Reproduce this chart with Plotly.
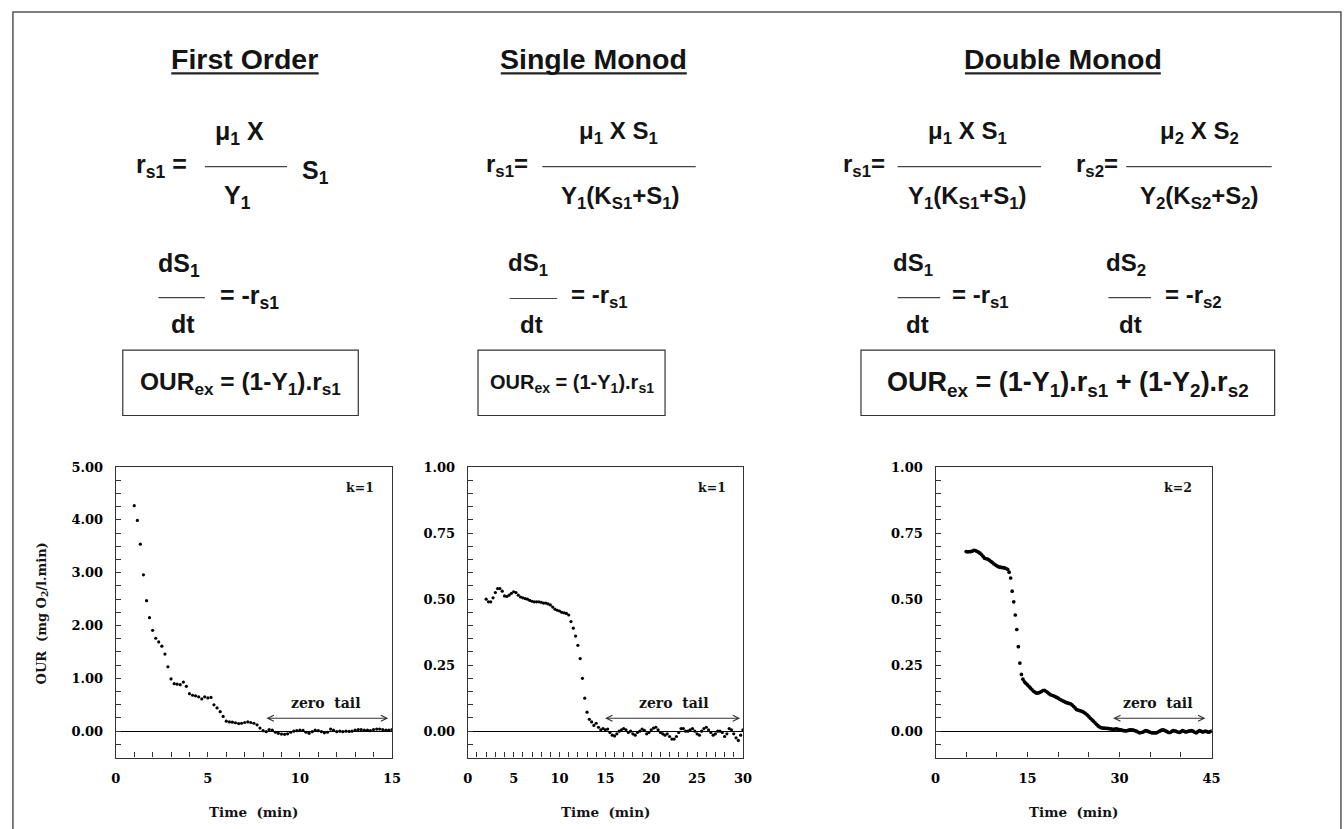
import plotly.graph_objects as go

W, H = 1344, 829

# ---------------- measured oxygen uptake rates ----------------
first_order_t = [
    1.00, 1.17, 1.33, 1.50, 1.67, 1.83, 2.00, 2.17, 2.33, 2.50,
    2.67, 2.83, 3.00, 3.17, 3.33, 3.50, 3.67, 3.83, 4.00, 4.17,
    4.33, 4.50, 4.67, 4.83, 5.00, 5.17, 5.33, 5.50, 5.67, 5.83,
    6.00, 6.17, 6.33, 6.50, 6.67, 6.83, 7.00, 7.17, 7.33, 7.50,
    7.67, 7.83, 8.00, 8.17, 8.33, 8.50, 8.67, 8.83, 9.00, 9.17,
    9.33, 9.50, 9.67, 9.83, 10.00, 10.17, 10.33, 10.50, 10.67, 10.83,
    11.00, 11.17, 11.33, 11.50, 11.67, 11.83, 12.00, 12.17, 12.33, 12.50,
    12.67, 12.83, 13.00, 13.17, 13.33, 13.50, 13.67, 13.83, 14.00, 14.17,
    14.33, 14.50, 14.67, 14.83, 15.00,
]
first_order_our = [
    4.27, 3.99, 3.54, 2.96, 2.47, 2.15, 1.91, 1.76, 1.69, 1.61,
    1.46, 1.22, 0.99, 0.90, 0.89, 0.88, 0.93, 0.85, 0.71, 0.68,
    0.67, 0.65, 0.61, 0.65, 0.63, 0.64, 0.50, 0.44, 0.37, 0.28,
    0.19, 0.175, 0.17, 0.16, 0.145, 0.15, 0.165, 0.175, 0.165, 0.15,
    0.12, 0.06, 0.01, -0.01, 0.03, 0.02, -0.02, -0.04, -0.055, -0.06,
    -0.05, -0.02, 0.0, 0.01, 0.02, 0.015, -0.02, -0.04, -0.01, 0.02,
    0.01, -0.01, -0.03, -0.02, 0.04, 0.02, -0.01, 0.0, -0.01, 0.0,
    -0.005, 0.0, 0.02, 0.03, 0.03, 0.02, 0.02, 0.01, 0.03, 0.04,
    0.04, 0.03, 0.02, 0.02, 0.03,
]

single_monod_t = [
    2.00, 2.25, 2.50, 2.75, 3.00, 3.25, 3.50, 3.75,
    4.00, 4.25, 4.50, 4.75, 5.00, 5.25, 5.50, 5.75,
    6.00, 6.25, 6.50, 6.75, 7.00, 7.25, 7.50, 7.75,
    8.00, 8.25, 8.50, 8.75, 9.00, 9.25, 9.50, 9.75,
    10.00, 10.25, 10.50, 10.75, 11.00, 11.25, 11.50, 11.75,
    12.00, 12.25, 12.50, 12.75, 13.00, 13.25, 13.50, 13.75,
    14.00, 14.25, 14.50, 14.75, 15.00, 15.25, 15.50, 15.75,
    16.00, 16.25, 16.50, 16.75, 17.00, 17.25, 17.50, 17.75,
    18.00, 18.25, 18.50, 18.75, 19.00, 19.25, 19.50, 19.75,
    20.00, 20.25, 20.50, 20.75, 21.00, 21.25, 21.50, 21.75,
    22.00, 22.25, 22.50, 22.75, 23.00, 23.25, 23.50, 23.75,
    24.00, 24.25, 24.50, 24.75, 25.00, 25.25, 25.50, 25.75,
    26.00, 26.25, 26.50, 26.75, 27.00, 27.25, 27.50, 27.75,
    28.00, 28.25, 28.50, 28.75, 29.00, 29.25, 29.50, 29.75,
    30.00,
]
single_monod_our = [
    0.500, 0.490, 0.490, 0.505, 0.525, 0.540, 0.540, 0.530,
    0.512, 0.510, 0.515, 0.522, 0.528, 0.525, 0.515, 0.508,
    0.505, 0.502, 0.500, 0.495, 0.492, 0.490, 0.490, 0.490,
    0.488, 0.485, 0.485, 0.482, 0.478, 0.470, 0.462, 0.458,
    0.455, 0.450, 0.448, 0.446, 0.440, 0.415, 0.390, 0.360,
    0.325, 0.275, 0.200, 0.125, 0.072, 0.045, 0.035, 0.022,
    0.030, 0.015, 0.005, 0.010, 0.005, 0.008, -0.005, -0.015,
    -0.018, -0.010, 0.000, 0.005, 0.010, 0.005, -0.005, 0.000,
    -0.010, -0.015, -0.005, 0.000, 0.008, 0.003, -0.010, -0.005,
    0.005, 0.012, 0.015, 0.005, -0.005, -0.010, -0.015, -0.010,
    -0.020, -0.030, -0.030, -0.020, -0.005, 0.010, 0.010, 0.000,
    0.000, 0.005, 0.010, 0.000, -0.010, -0.015, 0.000, 0.010,
    0.015, 0.005, -0.005, -0.015, -0.010, 0.000, 0.000, -0.005,
    -0.020, -0.010, 0.010, 0.005, -0.010, -0.025, -0.035, -0.015,
    0.005,
]

double_monod_t = [
    5.00, 5.25, 5.50, 5.75, 6.00, 6.25, 6.50, 6.75,
    7.00, 7.25, 7.50, 7.75, 8.00, 8.25, 8.50, 8.75,
    9.00, 9.25, 9.50, 9.75, 10.00, 10.25, 10.50, 10.75,
    11.00, 11.25, 11.50, 11.75, 12.00, 12.25, 12.50, 12.75,
    13.00, 13.25, 13.50, 13.75, 14.00, 14.25, 14.50, 14.75,
    15.00, 15.25, 15.50, 15.75, 16.00, 16.25, 16.50, 16.75,
    17.00, 17.25, 17.50, 17.75, 18.00, 18.25, 18.50, 18.75,
    19.00, 19.25, 19.50, 19.75, 20.00, 20.25, 20.50, 20.75,
    21.00, 21.25, 21.50, 21.75, 22.00, 22.25, 22.50, 22.75,
    23.00, 23.25, 23.50, 23.75, 24.00, 24.25, 24.50, 24.75,
    25.00, 25.25, 25.50, 25.75, 26.00, 26.25, 26.50, 26.75,
    27.00, 27.25, 27.50, 27.75, 28.00, 28.25, 28.50, 28.75,
    29.00, 29.25, 29.50, 29.75, 30.00, 30.25, 30.50, 30.75,
    31.00, 31.25, 31.50, 31.75, 32.00, 32.25, 32.50, 32.75,
    33.00, 33.25, 33.50, 33.75, 34.00, 34.25, 34.50, 34.75,
    35.00, 35.25, 35.50, 35.75, 36.00, 36.25, 36.50, 36.75,
    37.00, 37.25, 37.50, 37.75, 38.00, 38.25, 38.50, 38.75,
    39.00, 39.25, 39.50, 39.75, 40.00, 40.25, 40.50, 40.75,
    41.00, 41.25, 41.50, 41.75, 42.00, 42.25, 42.50, 42.75,
    43.00, 43.25, 43.50, 43.75, 44.00, 44.25, 44.50, 44.75,
    45.00,
]
double_monod_our = [
    0.680, 0.679, 0.680, 0.680, 0.682, 0.685, 0.684, 0.681,
    0.678, 0.674, 0.669, 0.662, 0.655, 0.653, 0.652, 0.648,
    0.643, 0.639, 0.634, 0.630, 0.626, 0.623, 0.621, 0.620,
    0.619, 0.618, 0.616, 0.613, 0.602, 0.580, 0.530, 0.490,
    0.440, 0.385, 0.320, 0.258, 0.215, 0.197, 0.187, 0.181,
    0.175, 0.169, 0.163, 0.157, 0.151, 0.147, 0.144, 0.145,
    0.147, 0.150, 0.154, 0.155, 0.151, 0.147, 0.142, 0.138,
    0.136, 0.134, 0.131, 0.128, 0.125, 0.121, 0.118, 0.115,
    0.112, 0.109, 0.107, 0.105, 0.104, 0.100, 0.094, 0.088,
    0.082, 0.080, 0.078, 0.076, 0.074, 0.070, 0.066, 0.061,
    0.055, 0.049, 0.043, 0.038, 0.032, 0.026, 0.020, 0.016,
    0.013, 0.012, 0.012, 0.011, 0.011, 0.010, 0.009, 0.008,
    0.007, 0.008, 0.009, 0.007, 0.006, 0.005, 0.003, 0.002,
    0.001, 0.002, 0.004, 0.005, 0.005, 0.004, 0.002, 0.000,
    -0.003, -0.006, -0.005, -0.004, -0.001, 0.002, 0.001, -0.002,
    -0.004, -0.006, -0.006, -0.006, -0.006, -0.003, 0.000, 0.003,
    0.005, 0.004, 0.001, -0.002, -0.005, -0.005, -0.001, 0.002,
    0.001, -0.001, -0.003, -0.005, -0.002, 0.002, 0.000, -0.003,
    -0.002, 0.000, 0.001, 0.002, 0.000, -0.004, -0.006, -0.002,
    0.002, 0.000, -0.003, -0.002, 0.000, -0.002, -0.004, -0.002,
    0.000,
]

panel_titles = ["First Order", "Single Monod", "Double Monod"]
k_labels = ["k=1", "k=1", "k=2"]

# ---------------- helpers ----------------
def fx(p):
    return p / W


def fy(p):
    return 1 - p / H


SANS = "Liberation Sans, Arial, sans-serif"
SERIF = "DejaVu Serif, serif"
INK = "#141414"

annotations = []
shapes = []


def label(x, y, text, size=25, xanchor="center", family=SANS, weight="bold", angle=0):
    annotations.append(dict(
        x=fx(x), y=fy(y), xref="paper", yref="paper", text=text, showarrow=False,
        xanchor=xanchor, yanchor="middle", textangle=angle,
        font=dict(family=family, size=size, color=INK, weight=weight),
    ))


def hline(x0, x1, y, width=1.2, color="#444444"):
    shapes.append(dict(type="line", xref="paper", yref="paper",
                       x0=fx(x0), x1=fx(x1), y0=fy(y), y1=fy(y),
                       line=dict(color=color, width=width)))


def box(x0, y0, x1, y1):
    shapes.append(dict(type="rect", xref="paper", yref="paper",
                       x0=fx(x0), x1=fx(x1), y0=fy(y0), y1=fy(y1),
                       line=dict(color="#333333", width=1.2)))


# ---------------- figure ----------------
fig = go.Figure()

series = [
    (first_order_t, first_order_our, "x", "y", 3.2),
    (single_monod_t, single_monod_our, "x2", "y2", 3.2),
    (double_monod_t, double_monod_our, "x3", "y3", 3.7),
]
for t, our, xa, ya, msize in series:
    fig.add_trace(go.Scatter(
        x=t, y=our, xaxis=xa, yaxis=ya, mode="markers",
        marker=dict(size=msize, color="black", line=dict(width=0)),
        showlegend=False, hoverinfo="skip",
    ))

tickfont = dict(family=SERIF, size=13, color="black", weight="bold")
axis_common = dict(
    showline=True, linecolor="#333333", linewidth=1.3, mirror=True,
    ticks="inside", ticklen=5, tickcolor="#333333", tickwidth=1,
    showgrid=False, tickfont=tickfont,
)

panels = [
    # (x domain px, x range, x major, x minor, y range, y major, y minor)
    ((112, 391), [0, 15], 5, 1, [-0.5, 5], 1, 0.25),
    ((467.7, 745.7), [0, 30], 5, 1, [-0.1, 1], 0.25, 0.05),
    ((940.3, 1219.3), [0, 45], 15, 5, [-0.1, 1], 0.25, 0.05),
]
ydom = [fy(757), fy(464)]
layout_axes = {}
for i, (xd, xr, xmaj, xmin, yr, ymaj, ymin) in enumerate(panels):
    sfx = "" if i == 0 else str(i + 1)
    layout_axes["xaxis" + sfx] = dict(
        axis_common, domain=[fx(xd[0]), fx(xd[1])], range=xr, dtick=xmaj, tick0=0,
        anchor="y" + sfx, zeroline=False, ticklabelstandoff=9,
        minor=dict(dtick=xmin, tick0=0, ticks="inside", ticklen=5, tickcolor="#333333", showgrid=False),
    )
    layout_axes["yaxis" + sfx] = dict(
        axis_common, domain=ydom, range=yr, dtick=ymaj, tick0=0, tickformat=".2f",
        anchor="x" + sfx, zeroline=True, zerolinecolor="black", zerolinewidth=1,
        ticklabelstandoff=9,
        minor=dict(dtick=ymin, tick0=0, ticks="inside", ticklen=5, tickcolor="#333333", showgrid=False),
    )

# panel headings with underline
for (cx, x0, x1), title in zip([(242, 168, 317), (595, 501, 689), (1069, 970, 1168)], panel_titles):
    label(cx, 52, title, size=28.5)
    hline(x0, x1, 67, width=2.2, color="#222222")

# ---- First order rate expression ----
label(130, 160, "r<sub>s1</sub> =", xanchor="left")
hline(202, 285, 161)
label(237, 127, "\u03bc<sub>1</sub> X")
label(235, 192, "Y<sub>1</sub>")
label(298, 166, "S<sub>1</sub>", xanchor="left")
label(176, 260, "dS<sub>1</sub>")
hline(155, 202, 293)
label(215, 292, "= -r<sub>s1</sub>", xanchor="left")
label(180, 320, "dt")

# ---- Single Monod rate expression ----
label(484, 160, "r<sub>s1</sub>=", size=24, xanchor="left")
hline(543, 698, 161)
label(620, 127, "\u03bc<sub>1</sub> X S<sub>1</sub>", size=24)
label(622, 192, "Y<sub>1</sub>(K<sub>S1</sub>+S<sub>1</sub>)", size=24)
label(528, 260, "dS<sub>1</sub>", size=24)
hline(510, 558, 294)
label(570, 292, "= -r<sub>s1</sub>", size=24, xanchor="left")
label(532, 320, "dt", size=24)

# ---- Double Monod rate expressions ----
label(845, 160, "r<sub>s1</sub>=", size=24, xanchor="left")
hline(902, 1047, 161)
label(973, 127, "\u03bc<sub>1</sub> X S<sub>1</sub>", size=24)
label(973, 192, "Y<sub>1</sub>(K<sub>S1</sub>+S<sub>1</sub>)", size=24)
label(1080, 160, "r<sub>s2</sub>=", size=24, xanchor="left")
hline(1133, 1280, 161)
label(1207, 127, "\u03bc<sub>2</sub> X S<sub>2</sub>", size=24)
label(1207, 192, "Y<sub>2</sub>(K<sub>S2</sub>+S<sub>2</sub>)", size=24)
label(918, 260, "dS<sub>1</sub>", size=24)
hline(902, 945, 293)
label(955, 292, "= -r<sub>s1</sub>", size=24, xanchor="left")
label(922, 320, "dt", size=24)
label(1133, 260, "dS<sub>2</sub>", size=24)
hline(1115, 1158, 293)
label(1170, 292, "= -r<sub>s2</sub>", size=24, xanchor="left")
label(1137, 320, "dt", size=24)

# ---- OUR balances ----
box(119, 346, 357, 412)
label(238, 380, "OUR<sub>ex</sub> = (1-Y<sub>1</sub>).r<sub>s1</sub>", size=24.5)
box(478, 346, 667, 412)
label(573, 380, "OUR<sub>ex</sub> = (1-Y<sub>1</sub>).r<sub>s1</sub>", size=20)
box(865, 346, 1283, 412)
label(1074, 380, "OUR<sub>ex</sub> = (1-Y<sub>1</sub>).r<sub>s1</sub> + (1-Y<sub>2</sub>).r<sub>s2</sub>", size=27)

# ---- axis titles ----
label(38, 612, "OUR\u00a0 (mg O<sub>2</sub>/l.min)", size=13, family=SERIF, angle=-90)
for cx in [251.5, 606.7, 1079.8]:
    label(cx, 812, "Time\u00a0 (min)", size=13.5, family=SERIF)

# ---- k labels ----
for (kx, txt) in zip([359, 714, 1185], k_labels):
    label(kx, 485, txt, size=12.5, family=SERIF)

# ---- zero tail markers ----
tails = [
    ("x", "y", 8.1, 14.8, 0.245, 11.4, 0.53),
    ("x2", "y2", 14.8, 29.7, 0.049, 22.5, 0.105),
    ("x3", "y3", 28.7, 44.0, 0.049, 36.3, 0.105),
]
for xa, ya, t0, t1, yarr, tx, ty in tails:
    annotations.append(dict(
        x=t1, y=yarr, ax=t0, ay=yarr, xref=xa, yref=ya, axref=xa, ayref=ya,
        text="", showarrow=True, arrowside="end+start", arrowhead=5, startarrowhead=5,
        arrowsize=1.2, startarrowsize=1.2, arrowwidth=1, arrowcolor="#333333",
        standoff=0, startstandoff=0,
    ))
    annotations.append(dict(
        x=tx, y=ty, xref=xa, yref=ya, text="zero\u00a0\u00a0tail", showarrow=False,
        xanchor="center", yanchor="middle",
        font=dict(family=SERIF, size=14, color=INK, weight="bold"),
    ))

# outer frame
shapes.append(dict(type="rect", xref="paper", yref="paper",
                   x0=fx(8), x1=fx(1350), y0=fy(5), y1=fy(840),
                   line=dict(color="#555555", width=1.5)))

fig.update_layout(
    width=W, height=H, autosize=False,
    margin=dict(l=0, r=0, t=0, b=0),
    paper_bgcolor="white", plot_bgcolor="white",
    annotations=annotations, shapes=shapes,
    **layout_axes,
)

fig.write_html("out.html", config={"displayModeBar": False})
